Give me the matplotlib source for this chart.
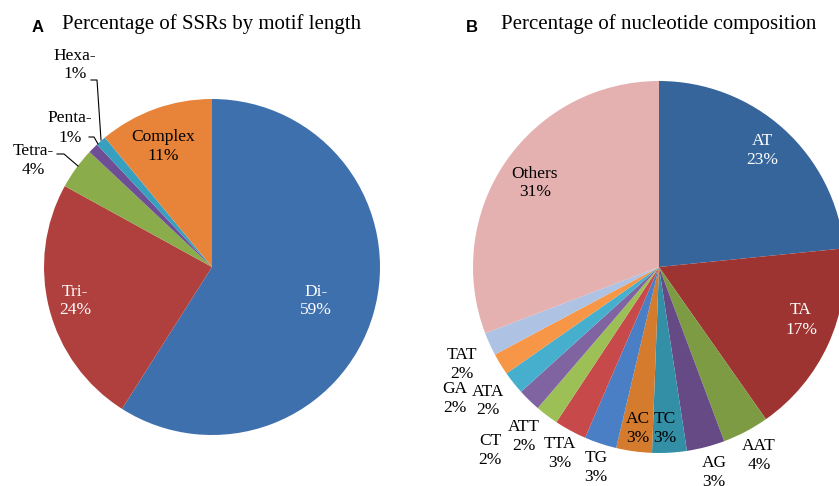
import matplotlib
matplotlib.use("Agg")
import matplotlib.pyplot as plt

# Panel A data
motif_labels = ["Di-", "Tri-", "Tetra-", "Penta-", "Hexa-", "Complex"]
motif_pct = [59, 24, 4, 1, 1, 11]
motif_colors = ["#3F70AE", "#B0403D", "#8AAC4A", "#6E4F95", "#38A0BF", "#E8843A"]

# Panel B data (shares; labels show them rounded)
nuc_labels = ["AT", "TA", "AAT", "AG", "TC", "AC", "TG", "TTA", "ATT", "CT",
              "ATA", "GA", "TAT", "Others"]
nuc_pct = [23.4, 16.85, 4.05, 3.3, 3.0, 3.1, 2.8, 2.8, 2.0, 2.0, 2.0, 1.9, 2.0, 30.8]
nuc_colors = ["#36659C", "#9E3432", "#7D9B42", "#664A86", "#328FA6", "#D57B2E",
              "#4A7FC5", "#C84949", "#9CC055", "#8064A2", "#45AFCD", "#F79646",
              "#AEC2E4", "#E4B0B0"]

W, H = 839, 486
fig = plt.figure(figsize=(W / 100, H / 100), dpi=100)

SERIF = "Liberation Serif"
FS = 12.5


def pie_axes(cx, cy, r):
    ax = fig.add_axes([(cx - r) / W, (H - cy - r) / H, 2 * r / W, 2 * r / H])
    ax.set_xlim(-1, 1)
    ax.set_ylim(-1, 1)
    ax.axis("off")
    return ax


def px_text(x, y, s, color="black", **kw):
    fig.text(x / W, 1 - y / H, s, ha="center", va="center", color=color,
             family=SERIF, fontsize=FS, linespacing=1.25, **kw)


def px_line(xs, ys):
    fig.add_artist(plt.Line2D([x / W for x in xs], [1 - y / H for y in ys],
                              color="black", lw=0.8))


# ---- A ----
axA = pie_axes(212, 267, 168)
axA.pie(motif_pct, colors=motif_colors, startangle=90, counterclock=False,
        radius=1, wedgeprops=dict(linewidth=0), frame=False)
axA.set_xlim(-1, 1)
axA.set_ylim(-1, 1)

label_pos_A = [(316, 301, "white"), (75, 301, "white"), (33, 160, "black"),
               (70, 128, "black"), (75, 65, "black"), (163, 146, "black")]
for lab, p, (x, y, c) in zip(motif_labels, motif_pct, label_pos_A):
    px_text(x, y, f"{lab}\n{p:.0f}%", color=c)

px_line([57, 64, 78], [154, 154, 166])
px_line([89, 94, 98], [137, 137, 144])
px_line([91, 97, 101], [80, 80, 140])

fig.text(38 / W, 1 - 27 / H, "A", family="Liberation Sans", fontweight="bold",
         fontsize=12, ha="center", va="center")
fig.text(212 / W, 1 - 24 / H, "Percentage of SSRs by motif length",
         family=SERIF, fontsize=15, ha="center", va="center")

# ---- B ----
axB = pie_axes(659, 267, 186)
axB.pie(nuc_pct, colors=nuc_colors, startangle=90, counterclock=False,
        radius=1, wedgeprops=dict(linewidth=0), frame=False)
axB.set_xlim(-1, 1)
axB.set_ylim(-1, 1)

label_pos_B = [(762, 150, "white"), (801, 320, "white"), (759, 455, "black"),
               (714, 472, "black"), (665, 428, "black"), (638, 428, "black"),
               (596, 467, "black"), (560, 453, "black"), (524, 436, "black"),
               (490, 450, "black"), (488, 401, "black"), (455, 398, "black"),
               (462, 364, "black"), (535, 183, "black")]
for lab, p, (x, y, c) in zip(nuc_labels, nuc_pct, label_pos_B):
    px_text(x, y, f"{lab}\n{p:.0f}%", color=c)

fig.text(472 / W, 1 - 27 / H, "B", family="Liberation Sans", fontweight="bold",
         fontsize=12, ha="center", va="center")
fig.text(659 / W, 1 - 24 / H, "Percentage of nucleotide composition",
         family=SERIF, fontsize=15, ha="center", va="center")

fig.savefig("out.png", dpi=100)
